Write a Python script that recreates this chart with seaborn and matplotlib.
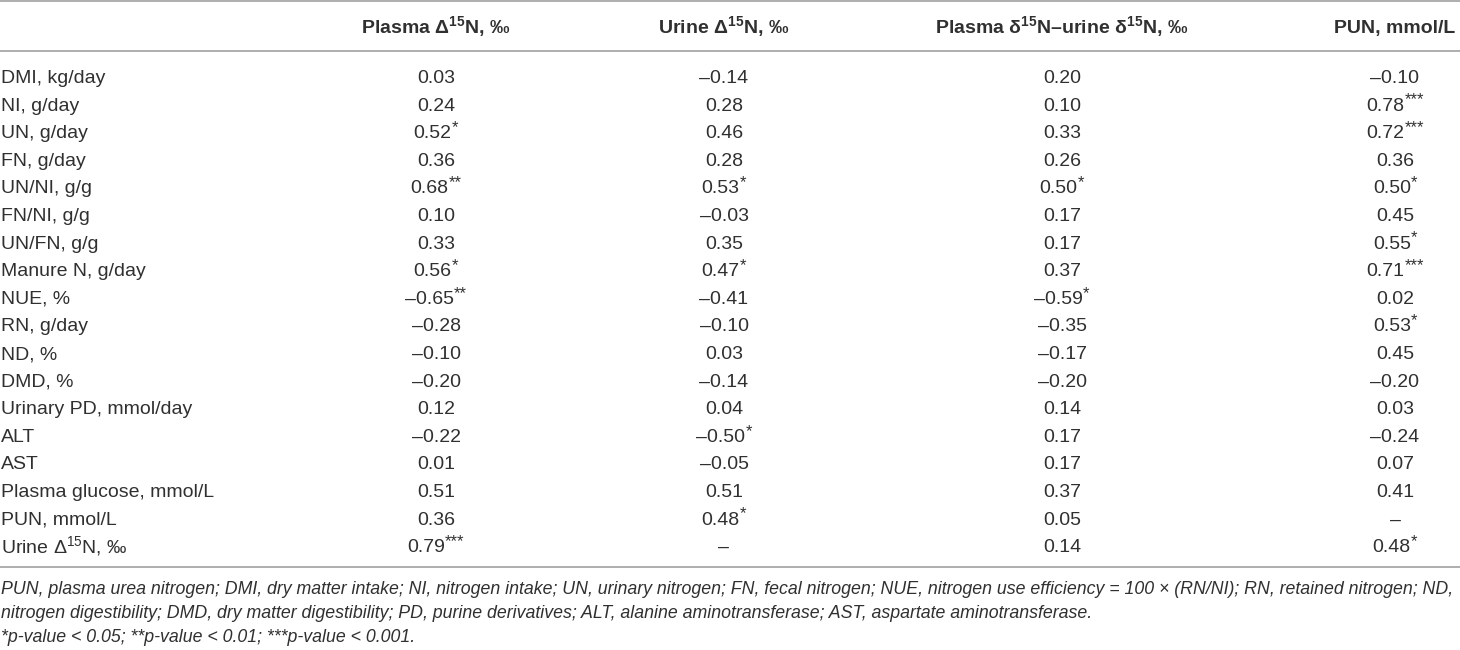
import matplotlib
matplotlib.use("Agg")
import matplotlib.pyplot as plt
import seaborn as sns
import numpy as np

# ---------------- data ----------------
row_labels = [
    "DMI, kg/day", "NI, g/day", "UN, g/day", "FN, g/day", "UN/NI, g/g",
    "FN/NI, g/g", "UN/FN, g/g", "Manure N, g/day", "NUE, %", "RN, g/day",
    "ND, %", "DMD, %", "Urinary PD, mmol/day", "ALT", "AST",
    "Plasma glucose, mmol/L", "PUN, mmol/L", "Urine Δ$^{15}$N, ‰",
]
col_headers = [
    r"Plasma Δ$^{\mathbf{15}}$N, ‰",
    r"Urine Δ$^{\mathbf{15}}$N, ‰",
    r"Plasma δ$^{\mathbf{15}}$N–urine δ$^{\mathbf{15}}$N, ‰",
    "PUN, mmol/L",
]
plasma_d15n = [0.03, 0.24, 0.52, 0.36, 0.68, 0.10, 0.33, 0.56, -0.65, -0.28,
               -0.10, -0.20, 0.12, -0.22, 0.01, 0.51, 0.36, 0.79]
plasma_stars = [0, 0, 1, 0, 2, 0, 0, 1, 2, 0, 0, 0, 0, 0, 0, 0, 0, 3]
urine_d15n = [-0.14, 0.28, 0.46, 0.28, 0.53, -0.03, 0.35, 0.47, -0.41, -0.10,
              0.03, -0.14, 0.04, -0.50, -0.05, 0.51, 0.48, None]
urine_stars = [0, 0, 0, 0, 1, 0, 0, 1, 0, 0, 0, 0, 0, 1, 0, 0, 1, 0]
diff_d15n = [0.20, 0.10, 0.33, 0.26, 0.50, 0.17, 0.17, 0.37, -0.59, -0.35,
             -0.17, -0.20, 0.14, 0.17, 0.17, 0.37, 0.05, 0.14]
diff_stars = [0, 0, 0, 0, 1, 0, 0, 0, 1, 0, 0, 0, 0, 0, 0, 0, 0, 0]
pun_vals = [-0.10, 0.78, 0.72, 0.36, 0.50, 0.45, 0.55, 0.71, 0.02, 0.53,
            0.45, -0.20, 0.03, -0.24, 0.07, 0.41, None, 0.48]
pun_stars = [0, 3, 3, 0, 1, 0, 1, 3, 0, 1, 0, 0, 0, 0, 0, 0, 0, 1]
footnotes = [
    "PUN, plasma urea nitrogen; DMI, dry matter intake; NI, nitrogen intake; UN, urinary nitrogen; "
    "FN, fecal nitrogen; NUE, nitrogen use efficiency = 100 × (RN/NI); RN, retained nitrogen; ND,",
    "nitrogen digestibility; DMD, dry matter digestibility; PD, purine derivatives; "
    "ALT, alanine aminotransferase; AST, aspartate aminotransferase.",
    "*p-value < 0.05; **p-value < 0.01; ***p-value < 0.001.",
]

columns = [(plasma_d15n, plasma_stars), (urine_d15n, urine_stars),
           (diff_d15n, diff_stars), (pun_vals, pun_stars)]

# ---------------- style ----------------
sns.set_theme(style="white")
plt.rcParams['font.family'] = ['Liberation Sans', 'DejaVu Sans']
plt.rcParams['mathtext.fontset'] = 'custom'
plt.rcParams['mathtext.rm'] = 'Liberation Sans'
plt.rcParams['mathtext.it'] = 'Liberation Sans:italic'
plt.rcParams['mathtext.bf'] = 'Liberation Sans:bold'

TEXT = "#303030"
LINE = "#a8a8a8"
FS = 14
FS_STAR = 12
FS_NOTE = 12.6
NOTE_TARGET_W = 1452

W, H = 1460, 650
fig = plt.figure(figsize=(W / 100, H / 100), dpi=100)
ax = fig.add_axes([0, 0, 1, 1])
ax.set_xlim(0, W)
ax.set_ylim(H, 0)
ax.axis("off")

col_x = [436, 724, 1062, 1395]
header_base = 33.5
row_base0 = 83
row_step = 27.6
label_x = 1
star_raise = 6


def fmt(v):
    if v is None:
        return "–"
    return f"{v:.2f}".replace("-", "–")


# rules
ax.axhline(1, color=LINE, lw=1.3)
ax.axhline(51, color=LINE, lw=1.3)
ax.axhline(567, color=LINE, lw=1.3)

# header
for x, h in zip(col_x, col_headers):
    ax.text(x, header_base, h, ha="center", va="baseline", fontsize=FS,
            fontweight="bold", color=TEXT)

# body
pairs = []
for i, lab in enumerate(row_labels):
    yb = row_base0 + i * row_step
    ax.text(label_x, yb, lab, ha="left", va="baseline", fontsize=FS, color=TEXT)
    for x, (vals, stars) in zip(col_x, columns):
        t = ax.text(x, yb, fmt(vals[i]), ha="center", va="baseline",
                    fontsize=FS, color=TEXT)
        if stars[i]:
            s = ax.text(x, yb - star_raise, "*" * stars[i], ha="left",
                        va="baseline", fontsize=FS_STAR, color=TEXT)
            pairs.append((t, s, x))

# footnotes
notes = []
for j, note in enumerate(footnotes):
    notes.append(ax.text(label_x, 594 + j * 24, note, ha="left", va="baseline",
                         fontsize=FS_NOTE, style="italic", color=TEXT))

fig.canvas.draw()
r = fig.canvas.get_renderer()

# fit the long footnote line to the table width
for _ in range(3):
    w0 = notes[0].get_window_extent(r).width
    new_fs = notes[0].get_fontsize() * NOTE_TARGET_W / w0
    for n in notes:
        n.set_fontsize(new_fs)
    fig.canvas.draw()
if notes[0].get_window_extent(r).x1 > W - 2:
    for n in notes:
        n.set_fontsize(n.get_fontsize() * 0.99)

# centre number+stars together
for t, s, x in pairs:
    wt = t.get_window_extent(r).width
    ws = s.get_window_extent(r).width
    left = x - (wt + ws) / 2
    t.set_ha("left")
    t.set_x(left)
    s.set_x(left + wt)

fig.savefig("out.png", dpi=100)
